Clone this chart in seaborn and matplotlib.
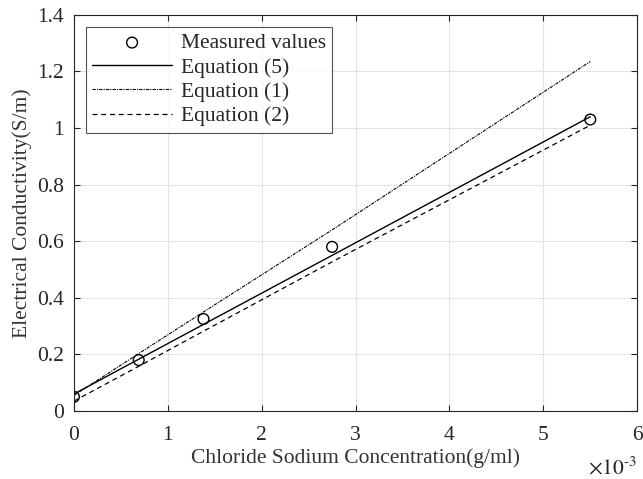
import numpy as np
import pandas as pd
import seaborn as sns
import matplotlib
matplotlib.use('Agg')
import matplotlib.pyplot as plt

# Data
conc = [0.0, 0.00069, 0.00138, 0.00275, 0.0055]
measured = [0.05, 0.18, 0.325, 0.58, 1.03]
eq5 = [0.06, 0.183, 0.306, 0.55, 1.04]
eq1 = [0.055, 0.203, 0.35, 0.64, 1.235]
eq2 = [0.035, 0.158, 0.282, 0.527, 1.01]

sns.set_style('ticks')
plt.rcParams['font.family'] = ['Liberation Serif', 'DejaVu Serif']
plt.rcParams['mathtext.fontset'] = 'stix'
plt.rcParams['xtick.direction'] = 'in'
plt.rcParams['ytick.direction'] = 'in'

fs = 15.5
fig = plt.figure(figsize=(6.43, 4.79), dpi=100)
ax = fig.add_axes([0.115, 0.142, 0.876, 0.827])

ax.grid(True, color='#e3e3e3', linewidth=0.8)
ax.set_axisbelow(True)

sns.scatterplot(x=conc, y=measured, ax=ax, marker='o', s=60, facecolor='none',
                edgecolor='black', linewidth=1.0, label='Measured values', zorder=5)
sns.lineplot(x=conc, y=eq5, ax=ax, color='black', linewidth=1.0, label='Equation (5)')
sns.lineplot(x=conc, y=eq1, ax=ax, color='black', linewidth=0.8, label='Equation (1)')
sns.lineplot(x=conc, y=eq2, ax=ax, color='black', linewidth=0.9, label='Equation (2)')
lines = ax.get_lines()
lines[1].set_dashes([3, 1, 1, 1])
lines[2].set_dashes([4, 3])

ax.set_xlim(0, 0.006)
ax.set_ylim(0, 1.4)
ax.set_xticks(np.arange(0, 0.0061, 0.001))
ax.set_xticklabels(['0', '1', '2', '3', '4', '5', '6'])
ax.set_yticks(np.arange(0, 1.41, 0.2))
ax.set_yticklabels(['0', '0.2', '0.4', '0.6', '0.8', '1', '1.2', '1.4'])
ax.tick_params(labelsize=fs, top=True, right=True, length=4, width=0.8,
               colors='#262626')
ax.tick_params(axis='x', pad=11)
ax.tick_params(axis='y', pad=7)
ax.text(1.0, -0.145, r'$\times10^{\text{-}3}$', transform=ax.transAxes, ha='right',
        va='center', fontsize=fs, color='#262626')

for sp in ax.spines.values():
    sp.set_linewidth(0.8)
    sp.set_color('#262626')

ax.set_xlabel('Chloride Sodium Concentration(g/ml)', fontsize=fs, color='#333333',
              labelpad=2)
ax.set_ylabel('Electrical Conductivity(S/m)', fontsize=fs, color='#333333',
              labelpad=4)

handles, labels = ax.get_legend_handles_labels()
leg = ax.legend(handles, labels, loc='upper left', fontsize=fs, frameon=True,
                fancybox=False, edgecolor='#262626', handlelength=3.7,
                borderaxespad=0.55, labelspacing=0.2, handletextpad=0.4,
                borderpad=0.3)
leg.get_frame().set_linewidth(0.8)

fig.savefig('out.png', dpi=100)
